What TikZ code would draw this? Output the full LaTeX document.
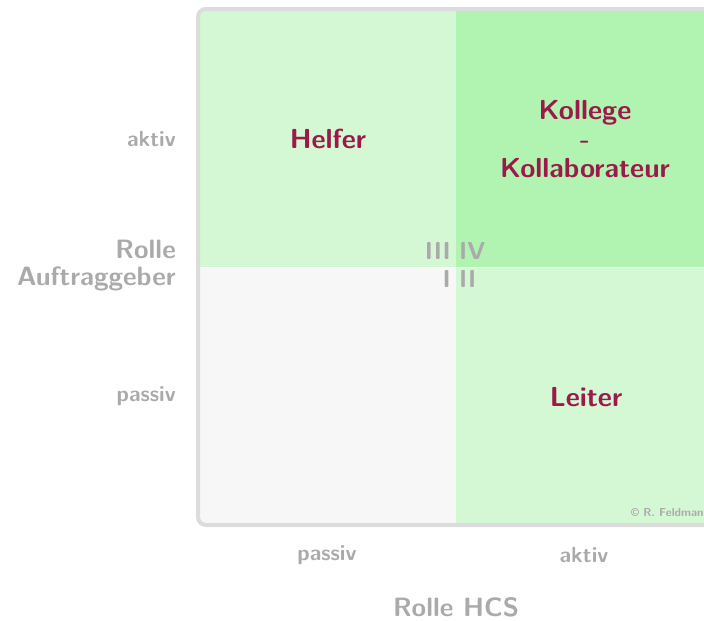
\documentclass[tikz,border=0pt]{standalone}
\usepackage{fontspec}
\definecolor{qlight}{HTML}{D4F7D4}
\definecolor{qdark}{HTML}{B1F3B1}
\definecolor{qgray}{HTML}{F7F7F7}
\definecolor{frame}{HTML}{DCDCDC}
\definecolor{txtgray}{HTML}{AAAAAA}
\definecolor{crimson}{HTML}{9B1A4A}
\tikzset{
  quadlabel/.style={font=\sffamily\bfseries\fontsize{27.5}{29}\selectfont, text=crimson, align=center, inner sep=0pt},
  axislabel/.style={font=\sffamily\bfseries\fontsize{22}{26}\selectfont, text=txtgray, inner sep=0pt},
  biglabel/.style={font=\sffamily\bfseries\fontsize{26.5}{27}\selectfont, text=txtgray, inner sep=0pt, align=right},
  numlabel/.style={font=\sffamily\bfseries\fontsize{24.5}{28}\selectfont, text=txtgray, inner sep=0pt},
}
\begin{document}
\begin{tikzpicture}[x=1pt,y=-1pt]
\useasboundingbox (0,0) rectangle (704,621);
\begin{scope}
  \clip[rounded corners=8pt] (198,9) rectangle (714,525);
  \fill[qlight] (196,7) rectangle (456,267);
  \fill[qdark] (456,7) rectangle (716,267);
  \fill[qgray] (196,267) rectangle (456,527);
  \fill[qlight] (456,267) rectangle (716,527);
  \draw[white, line width=1pt] (196,267) -- (716,267);
\end{scope}
\draw[frame, line width=4pt, rounded corners=8pt] (198,9) rectangle (714,525);

\node[quadlabel] (helfer) at (328,139) {Helfer};
\node[quadlabel] (kollege) at (585,139) {Kollege\\-\\Kollaborateur};
\node[quadlabel] (leiter) at (586,397) {Leiter};

\node[numlabel, anchor=east] (q3) at (451,251) {III};
\node[numlabel, anchor=west] (q4) at (459,251) {IV};
\node[numlabel, anchor=east] (q1) at (451,279) {I};
\node[numlabel, anchor=west] (q2) at (459,279) {II};

\node[axislabel, anchor=east] (yakt) at (176,139) {aktiv};
\node[axislabel, anchor=east] (ypas) at (176,396) {passiv};
\node[biglabel, anchor=east] (yrole) at (176,266) {Rolle\\Auftraggeber};
\node[axislabel] (xpas) at (327,555) {passiv};
\node[axislabel] (xakt) at (584,555) {aktiv};
\node[biglabel] (xrole) at (456,607) {Rolle HCS};
\node[font=\sffamily\bfseries\fontsize{11.5}{13}\selectfont, text=txtgray, anchor=west, inner sep=0pt] (copy) at (631,513) {© R. Feldmann};
\end{tikzpicture}
\end{document}
